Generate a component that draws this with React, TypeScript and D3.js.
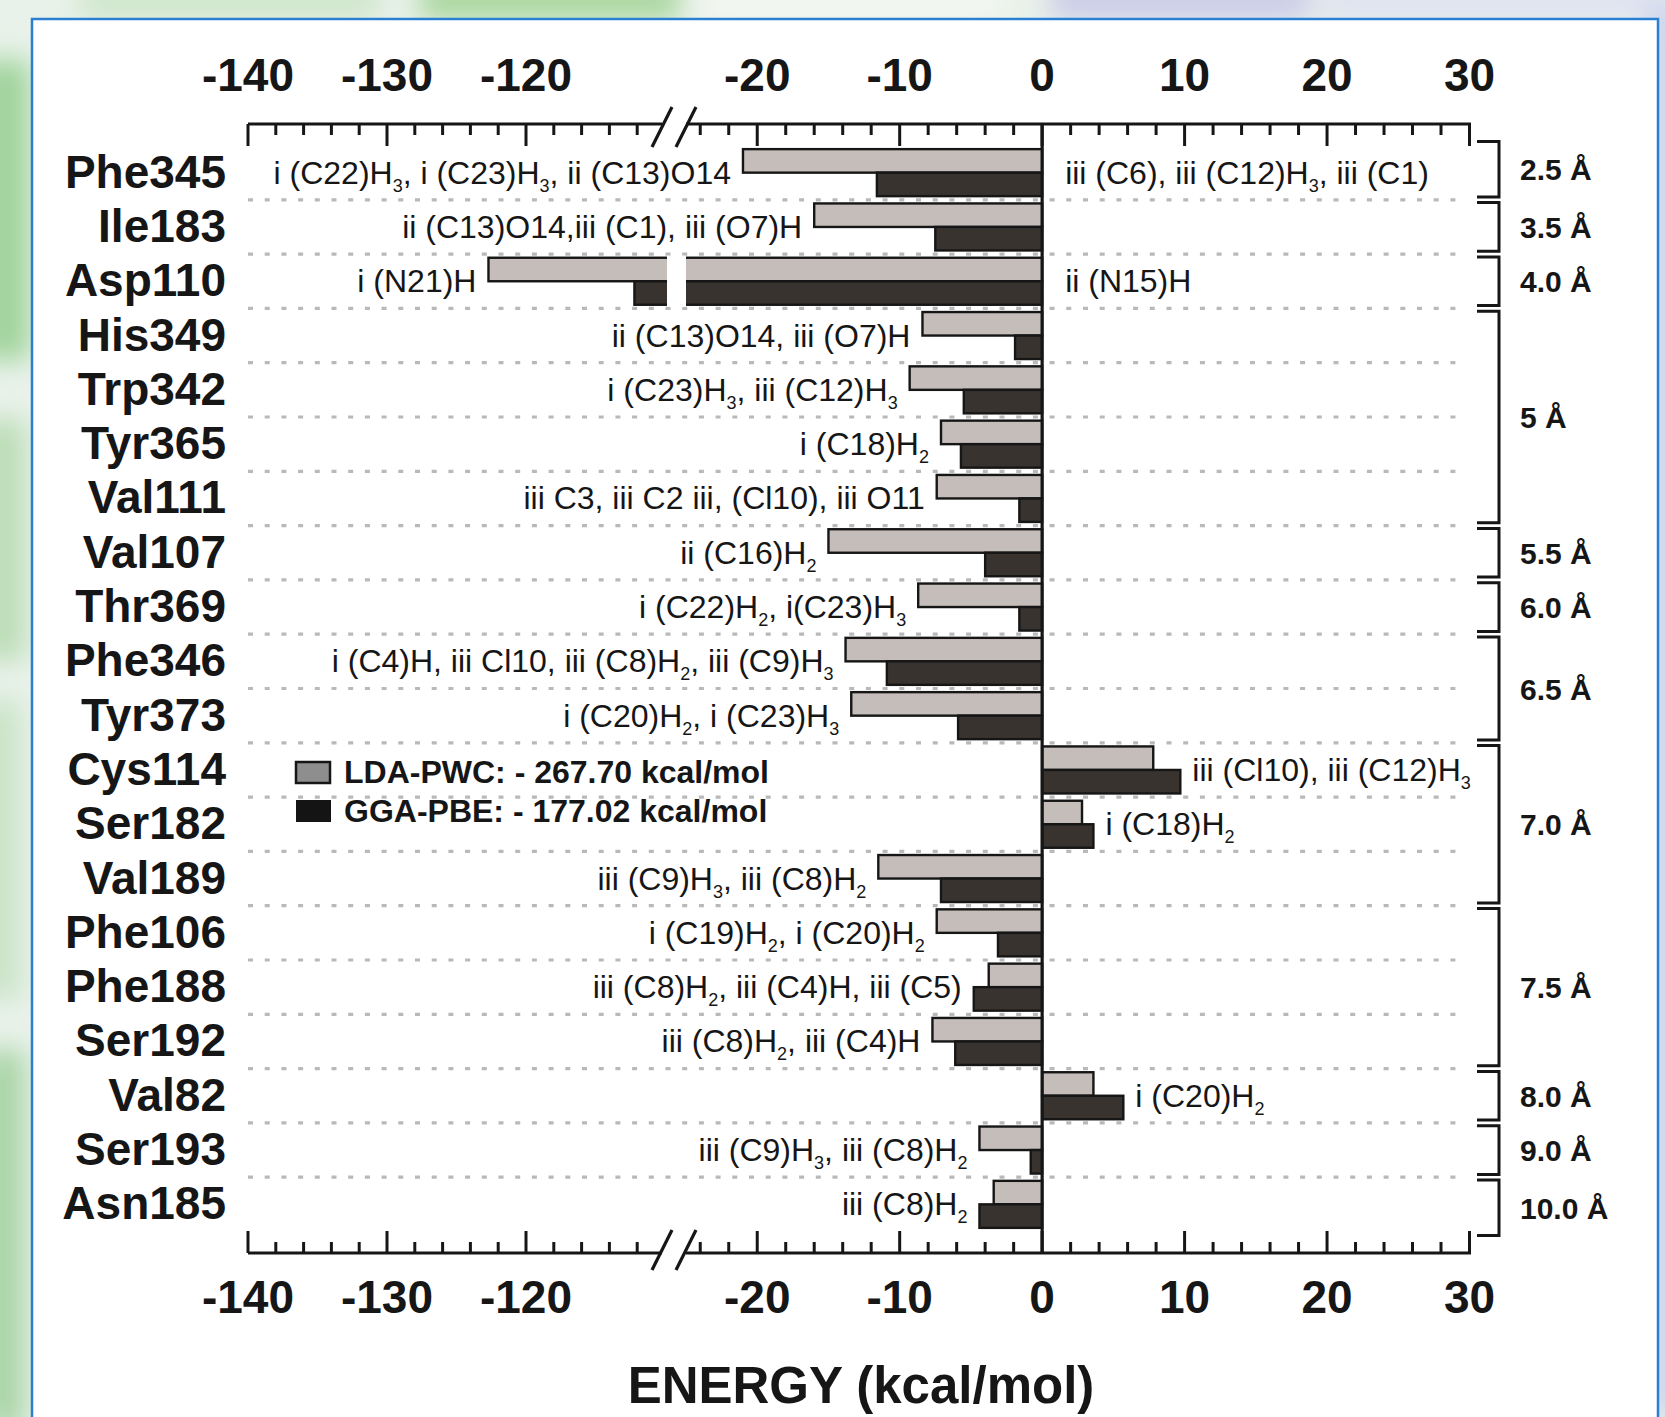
import React from "react";
import * as d3 from "d3";

// ---------------- data ----------------
const residues = [
  "Phe345", "Ile183", "Asp110", "His349", "Trp342", "Tyr365", "Val111", "Val107",
  "Thr369", "Phe346", "Tyr373", "Cys114", "Ser182", "Val189", "Phe106", "Phe188",
  "Ser192", "Val82", "Ser193", "Asn185",
];
const ldaValues = [
  -21.0, -16.0, -122.7, -8.4, -9.3, -7.1, -7.4, -15.0, -8.7, -13.8, -13.4, 7.8, 2.8,
  -11.5, -7.4, -3.75, -7.7, 3.6, -4.4, -3.4,
];
const ggaValues = [
  -11.6, -7.5, -112.2, -1.9, -5.5, -5.7, -1.6, -4.0, -1.6, -10.9, -5.9, 9.7, 3.6,
  -7.1, -3.1, -4.8, -6.1, 5.7, -0.8, -4.4,
];
// "_n" marks a subscript digit
const leftNotes = [
  "i (C22)H_3, i (C23)H_3, ii (C13)O14", "ii (C13)O14,iii (C1), iii (O7)H", "i (N21)H",
  "ii (C13)O14, iii (O7)H", "i (C23)H_3, iii (C12)H_3", "i (C18)H_2",
  "iii C3, iii C2 iii, (Cl10), iii O11", "ii (C16)H_2", "i (C22)H_2, i(C23)H_3",
  "i (C4)H, iii Cl10, iii (C8)H_2, iii (C9)H_3", "i (C20)H_2, i (C23)H_3", "", "",
  "iii (C9)H_3, iii (C8)H_2", "i (C19)H_2, i (C20)H_2", "iii (C8)H_2, iii (C4)H, iii (C5)",
  "iii (C8)H_2, iii (C4)H", "", "iii (C9)H_3, iii (C8)H_2", "iii (C8)H_2",
];
const rightNotes = [
  "iii (C6), iii (C12)H_3, iii (C1)", "", "ii (N15)H", "", "", "", "", "", "", "", "",
  "iii (Cl10), iii (C12)H_3", "i (C18)H_2", "", "", "", "", "i (C20)H_2", "", "",
];
const distanceLabels = ["2.5 Å", "3.5 Å", "4.0 Å", "5 Å", "5.5 Å", "6.0 Å", "6.5 Å", "7.0 Å", "7.5 Å", "8.0 Å", "9.0 Å", "10.0 Å"];
const distanceFirst = ["Phe345", "Ile183", "Asp110", "His349", "Val107", "Thr369", "Phe346", "Cys114", "Phe106", "Val82", "Ser193", "Asn185"];
const distanceLast = ["Phe345", "Ile183", "Asp110", "Val111", "Val107", "Thr369", "Tyr373", "Val189", "Ser192", "Val82", "Ser193", "Asn185"];
const tickLabels = [-140, -130, -120, -20, -10, 0, 10, 20, 30];
const legendLabels = ["LDA-PWC: - 267.70 kcal/mol", "GGA-PBE: - 177.02 kcal/mol"];
const axisTitle = "ENERGY (kcal/mol)";

// ---------------- layout ----------------
const W = 1665;
const H = 1417;
const axisTop = 124;
const axisBottom = 1253;
const FONT = "'Liberation Sans', Arial, Helvetica, sans-serif";
const GREY = "#c4bdb9";
const DARK = "#38332f";
const INK = "#161616";

// broken (piecewise) energy axis
const x = d3.scaleLinear().domain([-140, -110, -25, 30]).range([248, 665, 686, 1469.5]);
const breakLo = -110;
const breakHi = -25;
const y = d3.scaleBand().domain(residues).range([145.5, 1231.5]);
const bw = y.bandwidth();
const barH = bw * 0.433;

const leftTicks = d3.range(-140, -111, 2);
const rightTicks = d3.range(-24, 31, 2);
const allTicks = [...leftTicks, ...rightTicks];

function Note({ text, px, py, anchor }: { text: string; px: number; py: number; anchor: string }) {
  const parts = text.split(/_(\d)/);
  const nodes: any[] = [];
  let shifted = false;
  parts.forEach((p, i) => {
    if (i % 2 === 1) {
      nodes.push(
        <tspan key={i} dy={8} fontSize={18}>{p}</tspan>
      );
      shifted = true;
    } else if (p.length) {
      nodes.push(
        <tspan key={i} dy={shifted ? -8 : 0}>{p}</tspan>
      );
      shifted = false;
    }
  });
  return (
    <text x={px} y={py} textAnchor={anchor} fontSize={32} fill={INK} style={{ whiteSpace: "pre" }}>
      {nodes}
    </text>
  );
}

function Slash({ cx, cy }: { cx: number; cy: number }) {
  return <line x1={cx - 10} y1={cy + 20} x2={cx + 10} y2={cy - 20} stroke={INK} strokeWidth={3.2} />;
}

export default function App() {
  const x0 = x(0);
  const gapL = x(breakLo);
  const gapR = x(breakHi);
  const slashA = gapL - 3;
  const slashB = gapR;

  const axis = (yy: number, dir: number) => (
    <g>
      <line x1={x(-140)} x2={slashA} y1={yy} y2={yy} stroke={INK} strokeWidth={3.2} />
      <line x1={slashB} x2={x(30) + 1.5} y1={yy} y2={yy} stroke={INK} strokeWidth={3.2} />
      {allTicks.map((t) => {
        const major = t % 10 === 0 || t === -140;
        return (
          <line key={t} x1={x(t)} x2={x(t)} y1={yy} y2={yy + dir * (major ? 22 : 11)} stroke={INK} strokeWidth={3} />
        );
      })}
      <Slash cx={slashA} cy={yy + 3 * dir} />
      <Slash cx={slashB} cy={yy + 3 * dir} />
    </g>
  );

  return (
    <svg width={W} height={H} style={{ position: "absolute", left: 0, top: 0 }} fontFamily={FONT}>
      <defs>
        <filter id="blur" x="-50%" y="-50%" width="200%" height="200%">
          <feGaussianBlur stdDeviation="14" />
        </filter>
      </defs>
      {/* blurred photo-like background outside the frame */}
      <rect x={0} y={0} width={W} height={H} fill="#e9f2ea" />
      <g filter="url(#blur)">
        <rect x={-20} y={60} width={50} height={300} fill="#9fd39a" />
        <rect x={-20} y={420} width={45} height={240} fill="#b9dcb4" />
        <rect x={-20} y={700} width={40} height={300} fill="#c9e3c6" />
        <rect x={-20} y={1050} width={45} height={380} fill="#a9d4a6" />
        <rect x={80} y={-20} width={300} height={40} fill="#cfe6cb" />
        <rect x={420} y={-20} width={260} height={40} fill="#a7d69c" />
        <rect x={700} y={-20} width={300} height={40} fill="#f4f7f2" />
        <rect x={1050} y={-20} width={260} height={40} fill="#c9cbe8" />
        <rect x={1320} y={-20} width={340} height={40} fill="#dfe2f1" />
        <rect x={1650} y={0} width={30} height={1417} fill="#c8d0ee" />
      </g>
      <rect x={32} y={19} width={1626} height={1420} fill="#ffffff" stroke="#2b7fd3" strokeWidth={2.5} />

      {/* dotted gridlines between rows */}
      {residues.slice(1).map((r) => (
        <line key={r} x1={x(-140)} x2={1462} y1={y(r)!} y2={y(r)!} stroke="#b9b9b9" strokeWidth={3.2} strokeDasharray="5 11.7" />
      ))}

      {/* bars */}
      {residues.map((r, i) => {
        const c = y(r)! + bw / 2;
        const lda = ldaValues[i];
        const gga = ggaValues[i];
        const needsGap = Math.min(lda, gga) < breakLo;
        return (
          <g key={r}>
            <rect x={Math.min(x(lda), x0)} y={c - barH} width={Math.abs(x(lda) - x0)} height={barH} fill={GREY} stroke={INK} strokeWidth={2.4} />
            <rect x={Math.min(x(gga), x0)} y={c} width={Math.abs(x(gga) - x0)} height={barH} fill={DARK} stroke={INK} strokeWidth={2.4} />
            {needsGap && <rect x={gapL + 2} y={c - barH - 2} width={gapR - gapL - 2} height={barH * 2 + 4} fill="#ffffff" />}
          </g>
        );
      })}

      {/* zero line */}
      <line x1={x0} x2={x0} y1={axisTop} y2={axisBottom} stroke={INK} strokeWidth={3.2} />

      {/* annotations */}
      {residues.map((r, i) => {
        const c = y(r)! + bw / 2;
        const lda = ldaValues[i];
        const gga = ggaValues[i];
        const leftEdge = Math.min(x(lda), x(gga), x0);
        const rightEdge = Math.max(x(lda), x(gga), x0);
        const rx = rightEdge > x0 + 1 ? rightEdge + 12 : x0 + 23;
        return (
          <g key={r}>
            {leftNotes[i] && <Note text={leftNotes[i]} px={leftEdge - 12} py={c + 11} anchor="end" />}
            {rightNotes[i] && <Note text={rightNotes[i]} px={rx} py={c + 11} anchor="start" />}
          </g>
        );
      })}

      {/* residue labels */}
      {residues.map((r) => (
        <text key={r} x={226} y={y(r)! + bw / 2 + 15} textAnchor="end" fontSize={46} fontWeight="bold" fill={INK}>
          {r}
        </text>
      ))}

      {/* axes */}
      {axis(axisTop, 1)}
      {axis(axisBottom, -1)}
      {tickLabels.map((t) => (
        <g key={t}>
          <text x={x(t)} y={91} textAnchor="middle" fontSize={46} fontWeight="bold" fill={INK}>{t}</text>
          <text x={x(t)} y={1313} textAnchor="middle" fontSize={46} fontWeight="bold" fill={INK}>{t}</text>
        </g>
      ))}
      <text x={861} y={1403} textAnchor="middle" fontSize={51} fontWeight="bold" fill={INK}>{axisTitle}</text>

      {/* distance brackets */}
      {distanceLabels.map((lab, k) => {
        const s = residues.indexOf(distanceFirst[k]);
        const e = residues.indexOf(distanceLast[k]);
        const top = y(residues[s])! + (s === 0 ? -4 : 2.8);
        const bot = y(residues[e])! + bw + (e === residues.length - 1 ? 4 : -2.8);
        const bx0 = 1477;
        const bx1 = 1499;
        return (
          <g key={lab}>
            <path d={`M${bx0},${top}H${bx1}V${bot}H${bx0}`} fill="none" stroke={INK} strokeWidth={3} />
            <text x={1520} y={(top + bot) / 2 + 11} fontSize={30} fontWeight="bold" fill={INK}>{lab}</text>
          </g>
        );
      })}

      {/* legend */}
      <rect x={296} y={762} width={34} height={21} fill="#8e8e8e" stroke={INK} strokeWidth={2.5} />
      <rect x={296} y={800} width={35} height={22} fill="#141414" />
      <text x={344} y={783} fontSize={32} fontWeight="bold" fill={INK}>{legendLabels[0]}</text>
      <text x={344} y={822} fontSize={32} fontWeight="bold" fill={INK}>{legendLabels[1]}</text>
    </svg>
  );
}
